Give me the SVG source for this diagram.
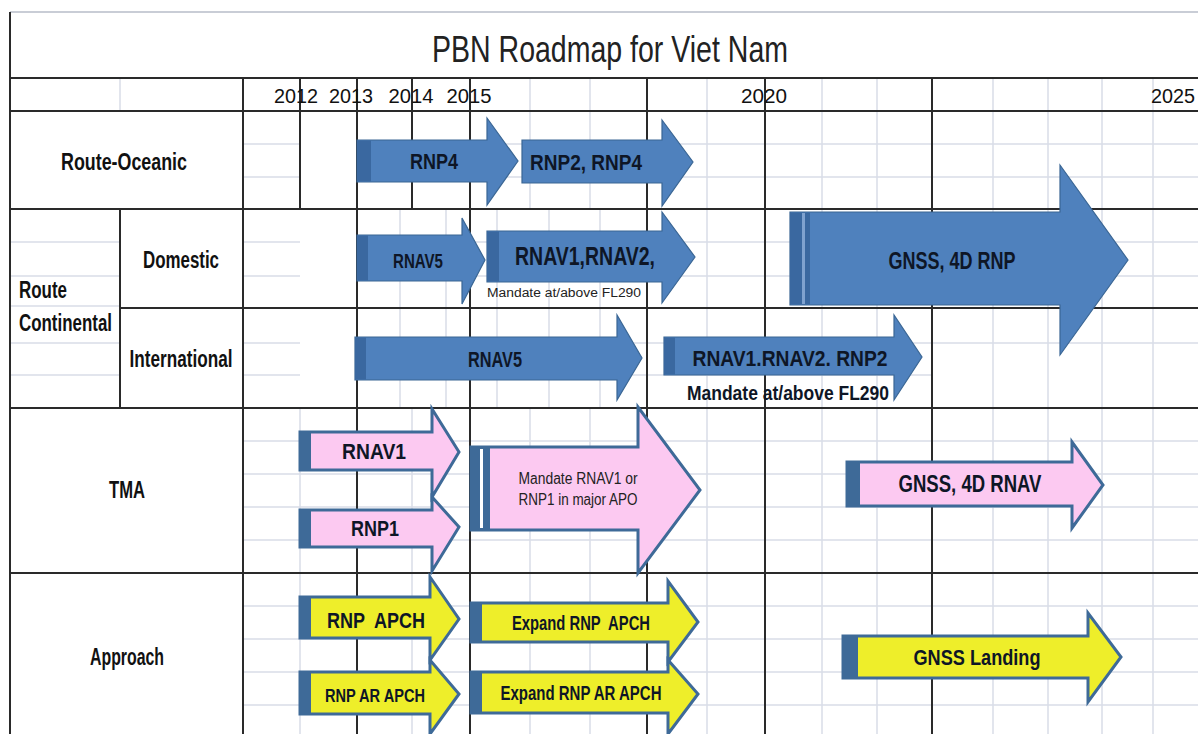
<svg xmlns="http://www.w3.org/2000/svg" width="1198" height="734" viewBox="0 0 1198 734">
<style>
.lg{stroke:#d9dde8;stroke-width:1.5;fill:none}
.dk{stroke:#2a2a2a;stroke-width:2;fill:none}
.blue{fill:#4f81bd;stroke:#3a6694;stroke-width:1.2}
.bstrip{fill:#3a68a0}
.pink{fill:#fcc9f1;stroke:#3e6a98;stroke-width:3;stroke-linejoin:miter}
.yel{fill:#eeee2a;stroke:#3e6a98;stroke-width:3;stroke-linejoin:miter}
.dstrip{fill:#3e6a98}
.t{font-family:"Liberation Sans",Arial,sans-serif;font-weight:bold;fill:#0e1626;text-anchor:middle}
.lbl{font-family:"Liberation Sans",Arial,sans-serif;font-weight:bold;fill:#111;font-size:23px}
.yr{font-family:"Liberation Sans",Arial,sans-serif;fill:#111;font-size:20px;text-anchor:middle}
.sm{font-family:"Liberation Sans",Arial,sans-serif;fill:#222;text-anchor:middle}
</style>
<rect x="0" y="0" width="1198" height="734" fill="#ffffff"/>

<g id="grid">
  <line x1="10" y1="12" x2="1198" y2="12" stroke="#c9cdd6" stroke-width="2"/>
  <path class="lg" d="M243 144H300M357 144H1198M243 177H300M357 177H1198
    M10 242H120M243 242H300M357 242H1198M10 276H120M243 276H300M357 276H1198
    M10 306H120
    M10 343H120M243 343H300M357 343H1198M10 375H120M243 375H300M357 375H932
    M243 441H1198M243 474H1198M243 507H1198M243 540H1198
    M243 606H1198M243 639H1198M243 672H1198M243 705H1198"/>
  <path class="lg" d="M120 78V111
    M530 78V209M590 78V209M530 408V734M590 408V734
    M400 209V408M446 209V408M497 209V408M549 209V408M600 209V408
    M300 408V734M412 408V734
    M707 78V734M822 78V734M877 78V734M993 78V734M1048 78V734M1102 78V734M1153 78V734"/>
  <path class="dk" d="M10 78H1198M10 111H1198M10 209H1198M120 308H1198M10 408H1198M10 573H1198
    M10 12V734M120 209V408M243 78V734M300 78V209M357 78V734M412 78V209M470 78V734
    M647 78V734M765 78V734M932 78V734"/>
</g>

<g id="title">
  <text x="610" y="62" font-family="'Liberation Sans',Arial,sans-serif" font-size="36" fill="#222" text-anchor="middle" textLength="356" lengthAdjust="spacingAndGlyphs">PBN Roadmap for Viet Nam</text>
</g>

<g id="years">
  <text class="yr" x="296" y="103" textLength="44" lengthAdjust="spacingAndGlyphs">2012</text>
  <text class="yr" x="351" y="103" textLength="44" lengthAdjust="spacingAndGlyphs">2013</text>
  <text class="yr" x="411" y="103" textLength="45" lengthAdjust="spacingAndGlyphs">2014</text>
  <text class="yr" x="469" y="103" textLength="45" lengthAdjust="spacingAndGlyphs">2015</text>
  <text class="yr" x="764" y="103" textLength="46" lengthAdjust="spacingAndGlyphs">2020</text>
  <text class="yr" x="1151" y="103" style="text-anchor:start" textLength="44" lengthAdjust="spacingAndGlyphs">2025</text>
</g>

<g id="row-labels">
  <text class="lbl" x="124" y="170" text-anchor="middle" textLength="126" lengthAdjust="spacingAndGlyphs">Route-Oceanic</text>
  <text class="lbl" x="181" y="268" text-anchor="middle" textLength="76" lengthAdjust="spacingAndGlyphs">Domestic</text>
  <text class="lbl" x="19" y="298" textLength="48" lengthAdjust="spacingAndGlyphs">Route</text>
  <text class="lbl" x="19" y="331" textLength="93" lengthAdjust="spacingAndGlyphs">Continental</text>
  <text class="lbl" x="181" y="367" text-anchor="middle" textLength="103" lengthAdjust="spacingAndGlyphs">International</text>
  <text class="lbl" x="127" y="498" text-anchor="middle" textLength="36" lengthAdjust="spacingAndGlyphs">TMA</text>
  <text class="lbl" x="127" y="665" text-anchor="middle" textLength="74" lengthAdjust="spacingAndGlyphs">Approach</text>
</g>

<g id="arrow-rnp4">
  <polygon class="blue" points="357,140 487,140 487,118 518,161 487,205 487,182 357,182"/>
  <rect class="bstrip" x="357" y="140.6" width="14" height="40.8"/>
  <text class="t" x="434" y="169" font-size="22" textLength="48" lengthAdjust="spacingAndGlyphs">RNP4</text>
</g>
<g id="arrow-rnp2-rnp4">
  <polygon class="blue" points="522,140 662,140 662,120 693,162 662,206 662,183 522,183"/>
  <text class="t" x="586" y="170" font-size="22" textLength="112" lengthAdjust="spacingAndGlyphs">RNP2, RNP4</text>
</g>
<g id="arrow-dom-rnav5">
  <polygon class="blue" points="357,235 462,235 462,218 485,260 462,304 462,281 357,281"/>
  <rect class="bstrip" x="357" y="235.6" width="11" height="44.8"/>
  <text class="t" x="418" y="268" font-size="21" textLength="50" lengthAdjust="spacingAndGlyphs">RNAV5</text>
</g>
<g id="arrow-dom-rnav1-rnav2">
  <polygon class="blue" points="487,231 662,231 662,212 695,257 662,303 662,282 487,282"/>
  <rect class="bstrip" x="487" y="231.6" width="12" height="49.8"/>
  <text class="t" x="585" y="265" font-size="25" textLength="140" lengthAdjust="spacingAndGlyphs">RNAV1,RNAV2,</text>
  <text class="sm" x="564" y="297" font-size="12" textLength="154" lengthAdjust="spacingAndGlyphs">Mandate at/above FL290</text>
</g>
<g id="arrow-gnss-4d-rnp">
  <polygon class="blue" points="790,212 1060,212 1060,165 1128,260 1060,355 1060,305 790,305"/>
  <rect class="bstrip" x="790" y="212.6" width="20" height="91.8"/>
  <rect x="802" y="213" width="3" height="91" fill="#7fa2cf"/>
  <text class="t" x="952" y="269" font-size="24" textLength="127" lengthAdjust="spacingAndGlyphs">GNSS, 4D RNP</text>
</g>
<g id="arrow-int-rnav5">
  <polygon class="blue" points="355,337 617,337 617,315 642,358 617,400 617,380 355,380"/>
  <rect class="bstrip" x="355" y="337.6" width="11" height="41.8"/>
  <text class="t" x="495" y="367" font-size="22" textLength="54" lengthAdjust="spacingAndGlyphs">RNAV5</text>
</g>
<g id="arrow-int-rnav1-rnav2-rnp2">
  <polygon class="blue" points="664,337 894,337 894,315 922,357 894,400 894,375 664,375"/>
  <rect class="bstrip" x="664" y="337.6" width="11" height="36.8"/>
  <text class="t" x="790" y="366" font-size="22" textLength="195" lengthAdjust="spacingAndGlyphs">RNAV1.RNAV2. RNP2</text>
  <text class="t" x="788" y="400" font-size="21" fill="#111" textLength="202" lengthAdjust="spacingAndGlyphs">Mandate at/above FL290</text>
</g>

<g id="arrow-tma-rnav1">
  <polygon class="pink" points="300,432 432,432 432,409 459,452 432,497 432,470 300,470"/>
  <rect class="dstrip" x="300" y="432" width="11" height="38"/>
  <text class="t" x="374" y="459" font-size="22" textLength="64" lengthAdjust="spacingAndGlyphs">RNAV1</text>
</g>
<g id="arrow-tma-rnp1">
  <polygon class="pink" points="300,510 432,510 432,497 459,527 432,571 432,547 300,547"/>
  <rect class="dstrip" x="300" y="510" width="11" height="37"/>
  <text class="t" x="375" y="536" font-size="22" textLength="48" lengthAdjust="spacingAndGlyphs">RNP1</text>
</g>
<g id="arrow-tma-mandate">
  <polygon class="pink" points="471,447 638,447 638,407 700,490 638,573 638,530 471,530"/>
  <rect class="dstrip" x="471" y="447" width="19" height="83"/>
  <rect x="480" y="449" width="3" height="79" fill="#ffffff"/>
  <text class="sm" x="578" y="484" font-size="16" fill="#1a1a1a" textLength="119" lengthAdjust="spacingAndGlyphs">Mandate RNAV1 or</text>
  <text class="sm" x="578" y="505" font-size="16" fill="#1a1a1a" textLength="119" lengthAdjust="spacingAndGlyphs">RNP1 in major APO</text>
</g>
<g id="arrow-tma-gnss-4d-rnav">
  <polygon class="pink" points="847,462 1072,462 1072,442 1103,485 1072,528 1072,506 847,506"/>
  <rect class="dstrip" x="847" y="462" width="13" height="44"/>
  <text class="t" x="970" y="492" font-size="23" textLength="143" lengthAdjust="spacingAndGlyphs">GNSS, 4D RNAV</text>
</g>

<g id="arrow-rnp-apch">
  <polygon class="yel" points="300,597 430,597 430,577 459,619 430,660 430,638 300,638"/>
  <rect class="dstrip" x="300" y="597" width="11" height="41"/>
  <text class="t" x="376" y="628" font-size="22" style="white-space:pre" textLength="98" lengthAdjust="spacingAndGlyphs">RNP  APCH</text>
</g>
<g id="arrow-rnp-ar-apch">
  <polygon class="yel" points="300,672 430,672 430,660 459,694 430,734 430,714 300,714"/>
  <rect class="dstrip" x="300" y="672" width="11" height="42"/>
  <text class="t" x="375" y="702" font-size="19" textLength="100" lengthAdjust="spacingAndGlyphs">RNP AR APCH</text>
</g>
<g id="arrow-expand-rnp-apch">
  <polygon class="yel" points="471,603 668,603 668,581 698,622 668,662 668,642 471,642"/>
  <rect class="dstrip" x="471" y="603" width="11" height="39"/>
  <text class="t" x="581" y="630" font-size="20" style="white-space:pre" textLength="138" lengthAdjust="spacingAndGlyphs">Expand RNP  APCH</text>
</g>
<g id="arrow-expand-rnp-ar-apch">
  <polygon class="yel" points="471,672 668,672 668,660 698,694 668,734 668,713 471,713"/>
  <rect class="dstrip" x="471" y="672" width="11" height="41"/>
  <text class="t" x="581" y="700" font-size="20" textLength="161" lengthAdjust="spacingAndGlyphs">Expand RNP AR APCH</text>
</g>
<g id="arrow-gnss-landing">
  <polygon class="yel" points="843,636 1088,636 1088,613 1121,657 1088,702 1088,678 843,678"/>
  <rect class="dstrip" x="843" y="636" width="15" height="42"/>
  <text class="t" x="977" y="665" font-size="22" textLength="127" lengthAdjust="spacingAndGlyphs">GNSS Landing</text>
</g>

<g id="connectors"></g>
</svg>
